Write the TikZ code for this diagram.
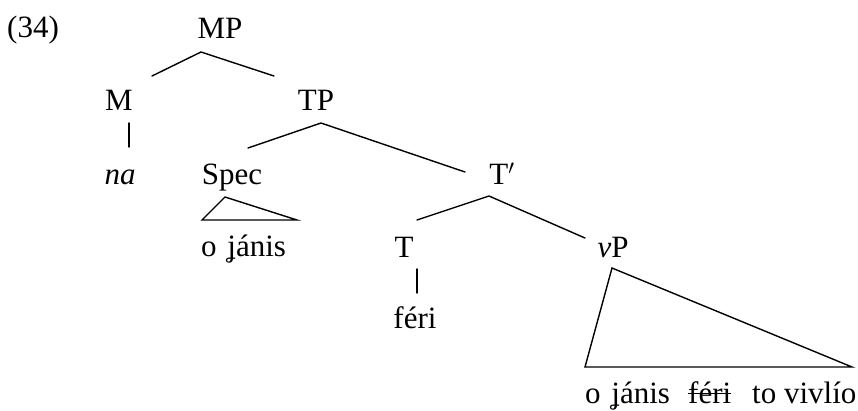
\documentclass[tikz,border=0pt]{standalone}
\usepackage{fontspec}
\setmainfont{Liberation Serif}
\begin{document}
\begin{tikzpicture}[x=1pt,y=-1pt,
  lbl/.style={inner sep=0pt, anchor=base, font=\fontsize{31}{37}\selectfont},
  edge/.style={line width=1.4pt, line cap=round}]
\useasboundingbox (0,0) rectangle (858,410);
% labels
\node[lbl, anchor=base west] (ex) at (7,37) {(34)};
\node[lbl] (MP) at (220,38) {MP};
\node[lbl] (M) at (119,110) {M};
\node[lbl] (TP) at (316,110) {TP};
\node[lbl] (na) at (120,184) {\itshape na};
\node[lbl] (Spec) at (232,184) {Spec};
\node[lbl] (Tbar) at (502,184) {T$'$};
\node[lbl, anchor=base west] (oj) at (201,256) {o\hspace{3pt} ʝánis};
\node[lbl] (T) at (404,257) {T};
\node[lbl] (vP) at (613,257) {\itshape v\upshape P};
\node[lbl] (feri) at (415,328) {féri};
\node[lbl, anchor=base west] (botA) at (585,403) {o\hspace{3pt} ʝánis};
\node[lbl, anchor=base west] (botB) at (688,403) {féri};
\node[lbl, anchor=base west] (botC) at (752,403) {to vivlío};
\draw[line width=1.3pt] ([yshift=9.5pt]botB.base west) -- ([yshift=9.5pt]botB.base east);
% connector points
\coordinate (MPb) at (201,52);
\coordinate (Mt) at (152,76);
\coordinate (TPt) at (274,76);
\coordinate (Mb) at (129,123);
\coordinate (nat) at (129,147);
\coordinate (TPb) at (321,123);
\coordinate (Spect) at (248,148);
\coordinate (Tbart) at (465,172);
\coordinate (SpA) at (225,197);
\coordinate (SpL) at (202,220);
\coordinate (SpR) at (297,220);
\coordinate (Tbarb) at (489,196);
\coordinate (Tt) at (417,220);
\coordinate (vPt) at (585,238);
\coordinate (Tb) at (417,269);
\coordinate (ferit) at (417,293);
\coordinate (vA) at (612,268);
\coordinate (vL) at (585,367);
\coordinate (vR) at (852,367);
% connectors
\draw[edge] (Mt) -- (MPb) -- (TPt);
\draw[edge] (Mb) -- (nat);
\draw[edge] (Spect) -- (TPb) -- (Tbart);
\draw[edge, line join=miter] (SpA) -- (SpL) -- (SpR) -- cycle;
\draw[edge] (Tt) -- (Tbarb) -- (vPt);
\draw[edge] (Tb) -- (ferit);
\draw[edge, line join=miter] (vA) -- (vL) -- (vR) -- cycle;
\end{tikzpicture}
\end{document}
